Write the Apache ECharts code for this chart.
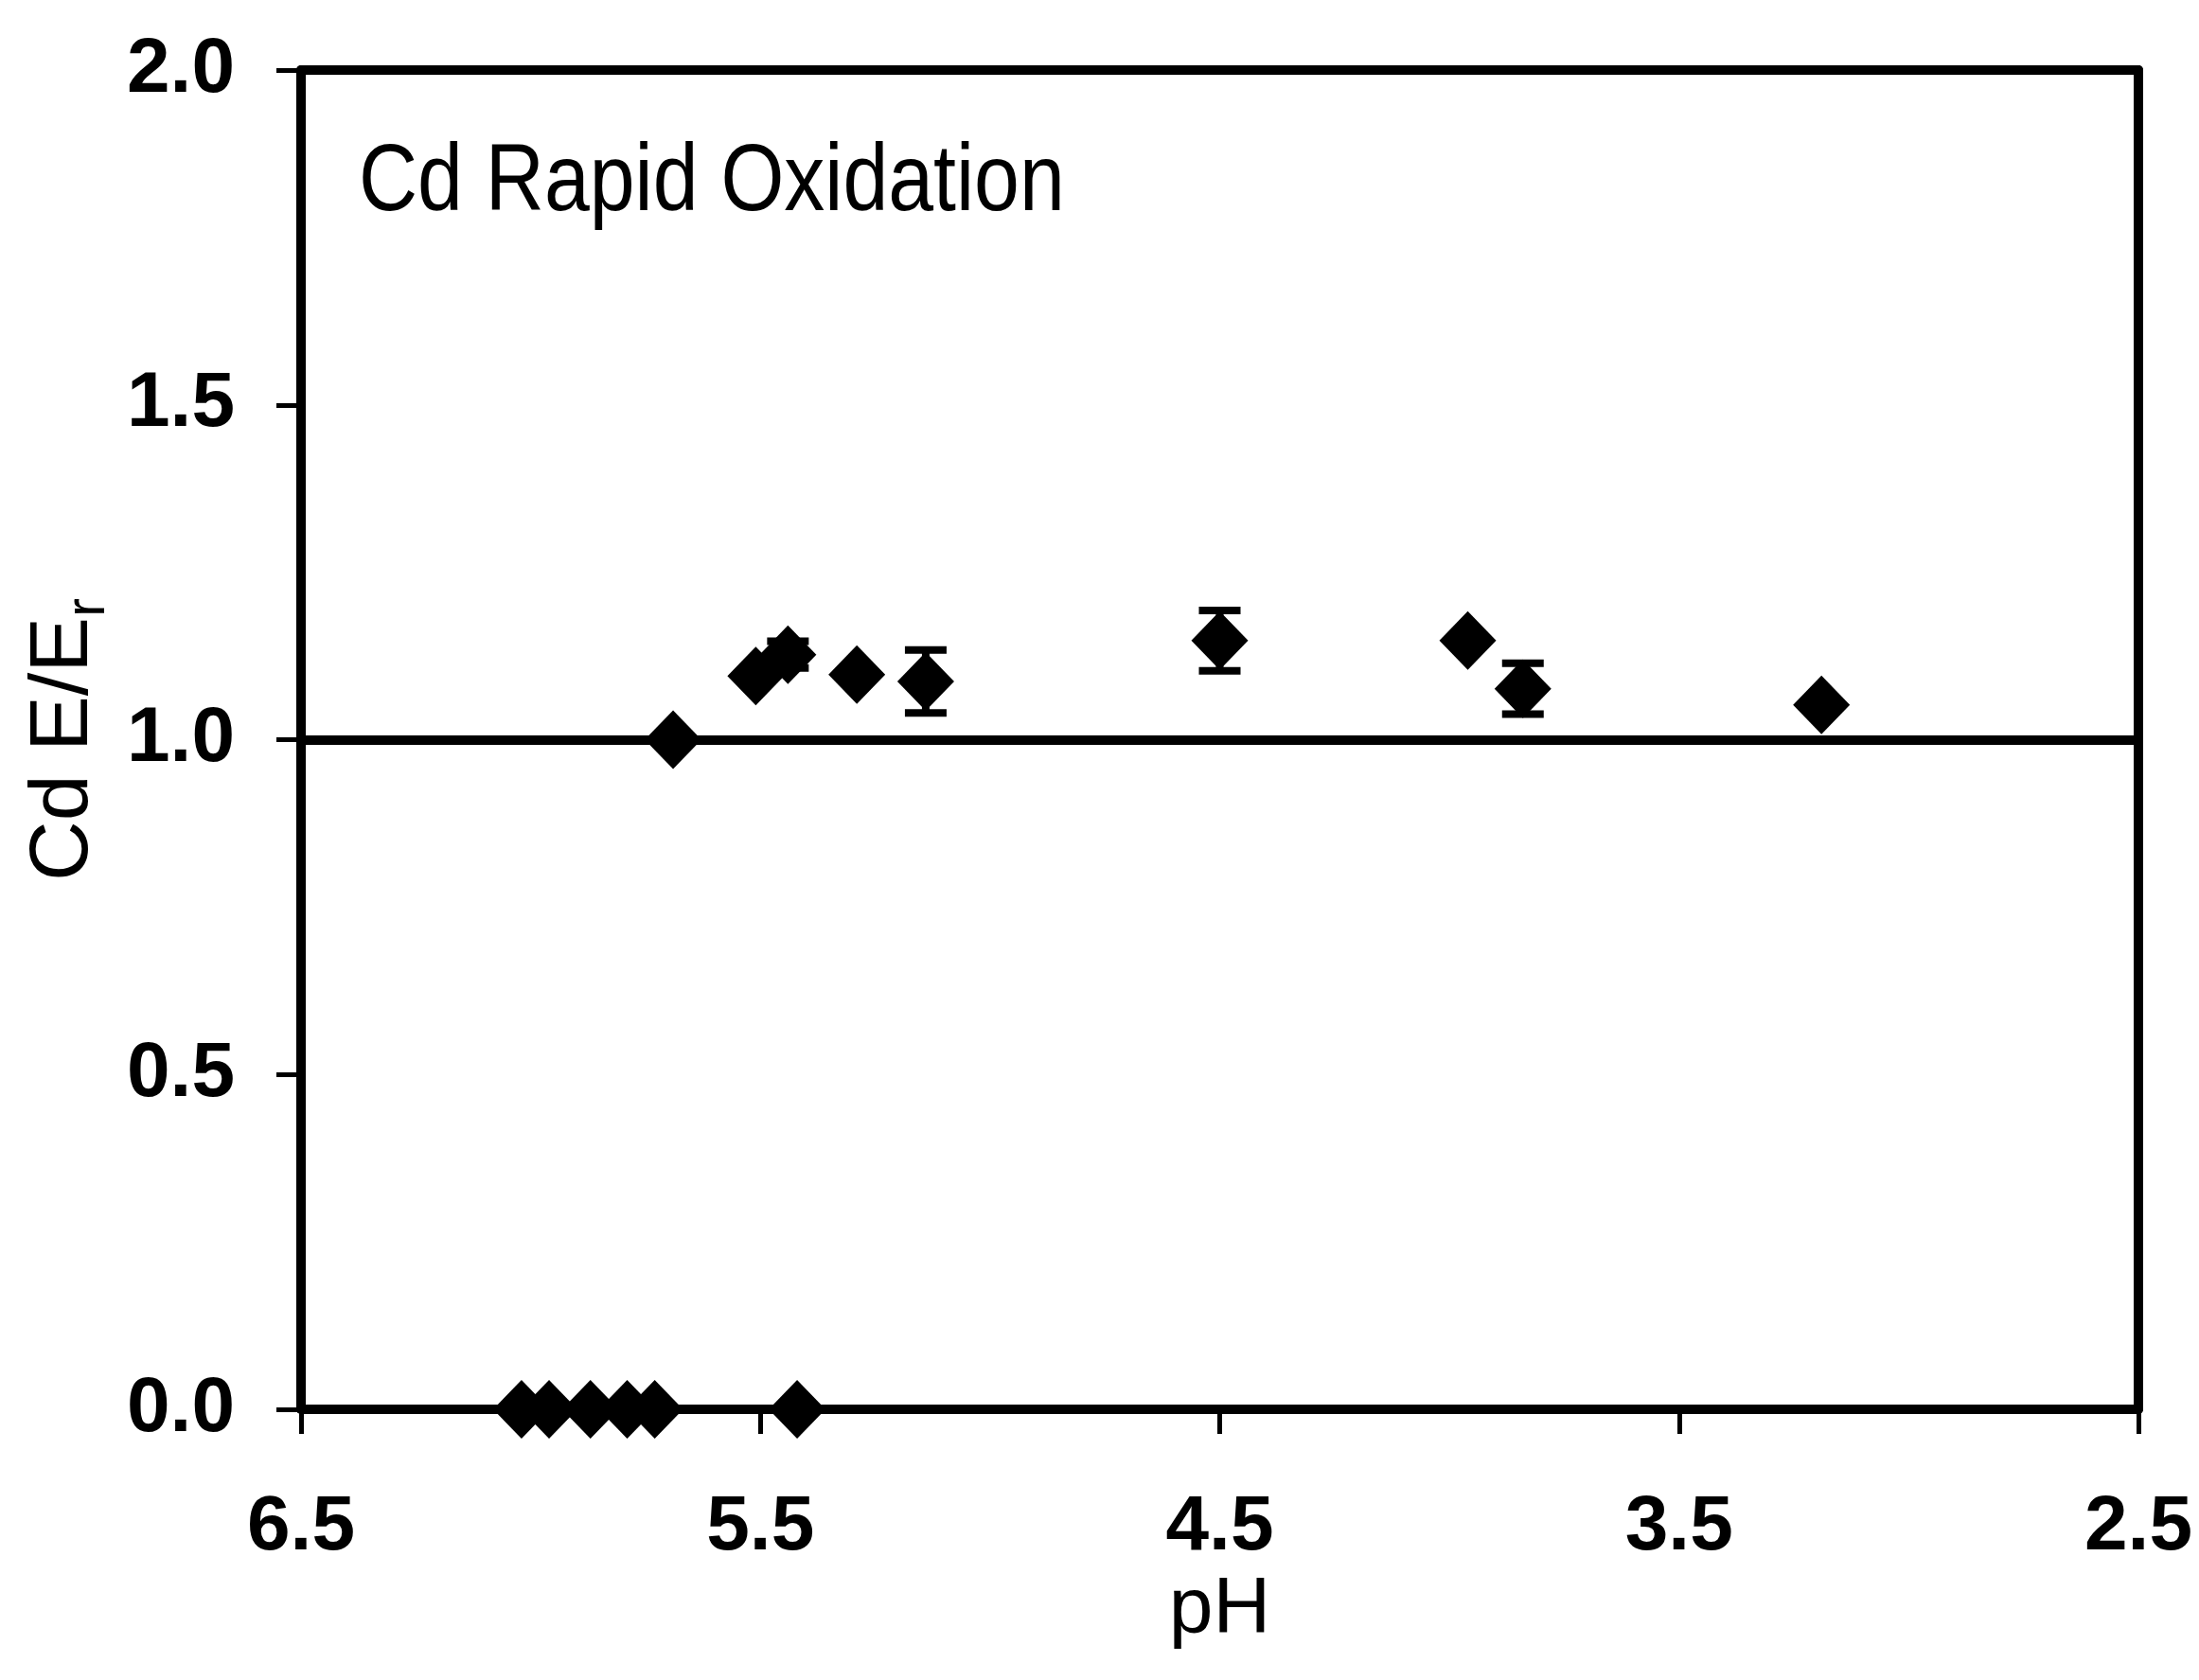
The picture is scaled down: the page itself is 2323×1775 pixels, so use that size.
<!DOCTYPE html>
<html>
<head>
<meta charset="utf-8">
<script src="https://cdn.jsdelivr.net/npm/echarts@6/dist/echarts.min.js"></script>
<style>
html,body{margin:0;padding:0;background:#fff;}
#chart{width:2323px;height:1775px;}
</style>
</head>
<body>
<div id="chart"></div>
<script>
// ---- data ----
const phValues    = [6.02, 5.96, 5.87, 5.79, 5.73, 5.42, 5.69, 5.51, 5.44, 5.29, 5.14, 4.50, 3.96, 3.84, 3.19];
const ratioValues = [0, 0, 0, 0, 0, 0, 1.00, 1.095, 1.127, 1.097, 1.087, 1.148, 1.148, 1.076, 1.052];
const errValues   = [0, 0, 0, 0, 0, 0, 0, 0, 0.02, 0, 0.047, 0.045, 0, 0.038, 0];
const xTicks = [2.5, 3.5, 4.5, 5.5, 6.5];
const referenceLevel = 1.0;
const titleText = 'Cd Rapid Oxidation';
const xName = 'pH';

const FONT = 'Liberation Sans';
const points = phValues.map((x, i) => [x, ratioValues[i]]);
const errData = phValues.map((x, i) => [x, ratioValues[i] - errValues[i], ratioValues[i] + errValues[i]])
  .filter((d, i) => errValues[i] > 0);

const chart = echarts.init(document.getElementById('chart'), null, {renderer: 'canvas'});
const axisLbl = {color: '#000', fontFamily: FONT, fontWeight: 'bold', fontSize: 82};
const LW = 10;
chart.setOption({
  animation: false,
  backgroundColor: '#fff',
  grid: {left: 318, right: 64, top: 74, bottom: 286, show: false},
  graphic: [{
    type: 'text', left: 379, top: 144, scaleX: 0.86,
    style: {text: titleText, font: 'normal 100px "Liberation Sans"', fill: '#000'}
  }],
  xAxis: [{
    type: 'value', min: 2.5, max: 6.5, inverse: true,
    name: xName, nameLocation: 'middle', nameGap: 146,
    nameTextStyle: {color: '#000', fontFamily: FONT, fontSize: 84},
    axisLine: {show: true, onZero: false, lineStyle: {color: '#000', width: LW}},
    axisTick: {show: true, inside: false, length: 26, lineStyle: {color: '#000', width: 5}, customValues: xTicks},
    axisLabel: Object.assign({margin: 84, customValues: xTicks, formatter: v => v.toFixed(1)}, axisLbl),
    splitLine: {show: false}
  }, {
    type: 'value', min: 2.5, max: 6.5, inverse: true, position: 'top',
    axisLine: {show: true, onZero: false, lineStyle: {color: '#000', width: LW}},
    axisTick: {show: false}, axisLabel: {show: false}, splitLine: {show: false}
  }],
  yAxis: [{
    type: 'value', min: 0, max: 2, interval: 0.5,
    name: '{m|Cd E/E}{s|r}', nameLocation: 'middle', nameGap: 166, nameRotate: 90,
    nameTextStyle: {
      color: '#000', fontFamily: FONT, fontSize: 88,
      rich: {
        m: {fontFamily: FONT, fontSize: 88, color: '#000', lineHeight: 110, verticalAlign: 'middle'},
        s: {fontFamily: FONT, fontSize: 60, color: '#000', lineHeight: 110, verticalAlign: 'bottom', padding: [52, 0, 0, 0]}
      }
    },
    axisLine: {show: true, onZero: false, lineStyle: {color: '#000', width: LW}},
    axisTick: {show: true, inside: false, length: 26, lineStyle: {color: '#000', width: 5}},
    axisLabel: Object.assign({margin: 70, formatter: v => v.toFixed(1)}, axisLbl),
    splitLine: {show: false}
  }, {
    type: 'value', min: 0, max: 2, interval: 0.5, position: 'right',
    axisLine: {show: true, onZero: false, lineStyle: {color: '#000', width: LW}},
    axisTick: {show: false}, axisLabel: {show: false}, splitLine: {show: false}
  }],
  series: [{
    type: 'scatter', xAxisIndex: 0, yAxisIndex: 0, clip: false,
    symbol: 'diamond', symbolSize: [60, 62],
    itemStyle: {color: '#000', opacity: 1},
    data: points,
    markLine: {
      silent: true, symbol: 'none', label: {show: false},
      lineStyle: {color: '#000', width: LW, type: 'solid', opacity: 1},
      data: [{yAxis: referenceLevel}]
    },
    z: 3
  }, {
    type: 'custom', xAxisIndex: 0, yAxisIndex: 0,
    data: errData,
    renderItem: function (params, api) {
      const x = api.value(0);
      const top = api.coord([x, api.value(2)]);
      const bot = api.coord([x, api.value(1)]);
      const hw = 22;
      const st = {stroke: '#000', lineWidth: 8};
      return {type: 'group', children: [
        {type: 'line', shape: {x1: top[0], y1: top[1], x2: bot[0], y2: bot[1]}, style: st},
        {type: 'line', shape: {x1: top[0] - hw, y1: top[1], x2: top[0] + hw, y2: top[1]}, style: st},
        {type: 'line', shape: {x1: bot[0] - hw, y1: bot[1], x2: bot[0] + hw, y2: bot[1]}, style: st}
      ]};
    },
    z: 4
  }]
});
</script>
</body>
</html>
